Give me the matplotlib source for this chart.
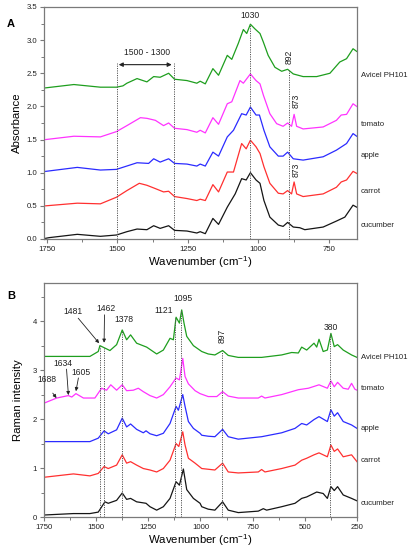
import matplotlib
matplotlib.use('Agg')
import matplotlib.pyplot as plt
import matplotlib.transforms as mtransforms
from matplotlib.ticker import MultipleLocator, FormatStrFormatter

plt.rcParams['font.family'] = ['Liberation Sans', 'DejaVu Sans']
plt.rcParams['mathtext.default'] = 'regular'

names = ['Avicel PH101', 'tomato', 'apple', 'carrot', 'cucumber']
colors = ['#1e9e1e', '#ff33ff', '#2b2bff', '#ff3030', '#151515']

# ---- A: FTIR absorbance ----
ftir_avicel_wn = [1754, 1654, 1560, 1503, 1480, 1466, 1430, 1395, 1371, 1348, 1318, 1297, 1253, 1218,
                  1206, 1188, 1161, 1141, 1110, 1094, 1071, 1053, 1041, 1028, 1012, 994, 982, 965,
                  941, 917, 896, 876, 841, 793, 746, 711, 687, 664, 651]
ftir_avicel = [2.28, 2.33, 2.29, 2.29, 2.31, 2.35, 2.42, 2.37, 2.45, 2.44, 2.50, 2.41, 2.39, 2.35,
               2.38, 2.34, 2.57, 2.47, 2.77, 2.71, 2.95, 3.16, 3.10, 3.24, 3.17, 3.10, 2.97, 2.77,
               2.59, 2.53, 2.56, 2.49, 2.45, 2.45, 2.50, 2.67, 2.72, 2.87, 2.83]

ftir_tomato_wn = [1754, 1654, 1560, 1503, 1466, 1418, 1395, 1365, 1336, 1318, 1297, 1253, 1218,
                  1206, 1188, 1161, 1141, 1110, 1094, 1065, 1053, 1028, 1008, 994, 982, 959, 935,
                  912, 896, 882, 873, 864, 841, 770, 723, 706, 687, 664, 651]
ftir_tomato = [1.50, 1.55, 1.54, 1.62, 1.71, 1.83, 1.82, 1.79, 1.71, 1.75, 1.67, 1.65, 1.61,
               1.64, 1.60, 1.83, 1.73, 2.04, 2.07, 2.39, 2.35, 2.49, 2.39, 2.34, 2.17, 1.89, 1.74,
               1.70, 1.75, 1.70, 1.88, 1.70, 1.66, 1.69, 1.79, 1.87, 1.88, 2.04, 2.00]

ftir_apple_wn = [1754, 1642, 1560, 1503, 1430, 1389, 1371, 1348, 1318, 1297, 1253, 1218, 1206,
                 1188, 1161, 1141, 1110, 1088, 1059, 1043, 1028, 1008, 996, 980, 959, 929, 912,
                 896, 876, 841, 770, 723, 687, 664, 651]
ftir_apple = [1.02, 1.08, 1.04, 1.05, 1.15, 1.14, 1.21, 1.16, 1.21, 1.14, 1.13, 1.10, 1.13,
              1.10, 1.31, 1.25, 1.54, 1.64, 1.89, 1.87, 1.99, 1.87, 1.87, 1.64, 1.39, 1.25, 1.25,
              1.31, 1.21, 1.19, 1.24, 1.34, 1.44, 1.59, 1.55]

ftir_carrot_wn = [1754, 1642, 1560, 1503, 1466, 1422, 1395, 1365, 1336, 1318, 1297, 1253, 1218,
                  1206, 1188, 1161, 1141, 1110, 1088, 1059, 1043, 1028, 1008, 994, 980, 959, 929,
                  912, 896, 882, 873, 864, 841, 770, 723, 706, 687, 664, 651]
ftir_carrot = [0.50, 0.54, 0.53, 0.63, 0.73, 0.84, 0.81, 0.76, 0.71, 0.72, 0.64, 0.61, 0.58,
               0.60, 0.58, 0.82, 0.71, 1.01, 1.01, 1.44, 1.36, 1.49, 1.39, 1.29, 1.09, 0.84, 0.69,
               0.68, 0.73, 0.68, 0.86, 0.68, 0.64, 0.68, 0.78, 0.86, 0.89, 1.02, 0.99]

ftir_cucumber_wn = [1754, 1742, 1642, 1560, 1503, 1466, 1430, 1395, 1371, 1348, 1318, 1297, 1253,
                    1218, 1206, 1188, 1161, 1141, 1110, 1082, 1059, 1043, 1028, 1008, 994, 980,
                    959, 929, 912, 896, 876, 853, 835, 770, 723, 693, 664, 651]
ftir_cucumber = [0.01, 0.02, 0.07, 0.04, 0.06, 0.11, 0.15, 0.14, 0.20, 0.16, 0.20, 0.13, 0.12,
                 0.09, 0.11, 0.08, 0.31, 0.22, 0.48, 0.68, 0.91, 0.89, 1.00, 0.89, 0.84, 0.58,
                 0.33, 0.21, 0.19, 0.25, 0.18, 0.17, 0.14, 0.18, 0.27, 0.33, 0.51, 0.48]

ftir_label_y = [2.47, 1.73, 1.26, 0.71, 0.20]

# ---- B: Raman intensity ----
raman_avicel_wn = [1753, 1530, 1490, 1482, 1458, 1434, 1402, 1375, 1354, 1335, 1306, 1258, 1210,
                   1178, 1146, 1130, 1117, 1101, 1090, 1079, 1066, 1034, 994, 963, 931, 894, 867,
                   819, 707, 611, 563, 531, 515, 491, 456, 443, 432, 412, 392, 375, 359, 343,
                   316, 276, 250]
raman_avicel = [3.28, 3.28, 3.38, 3.50, 3.45, 3.40, 3.52, 3.82, 3.62, 3.72, 3.55, 3.47, 3.33,
                3.41, 3.65, 3.62, 4.08, 3.96, 4.23, 3.96, 3.69, 3.50, 3.38, 3.33, 3.31, 3.40, 3.30,
                3.26, 3.26, 3.31, 3.36, 3.35, 3.47, 3.41, 3.55, 3.47, 3.63, 3.38, 3.41, 3.75, 3.48,
                3.52, 3.41, 3.31, 3.26]

raman_tomato_wn = [1753, 1689, 1633, 1617, 1597, 1561, 1506, 1474, 1450, 1430, 1402, 1375, 1354,
                   1322, 1298, 1274, 1242, 1210, 1178, 1146, 1117, 1101, 1085, 1074, 1058, 1026,
                   1002, 963, 922, 894, 867, 819, 723, 707, 691, 611, 531, 483, 432, 392, 375,
                   359, 343, 316, 292, 276, 260, 250]
raman_tomato = [2.32, 2.43, 2.48, 2.45, 2.52, 2.43, 2.43, 2.63, 2.59, 2.70, 2.59, 2.70, 2.58,
                2.59, 2.63, 2.56, 2.48, 2.43, 2.50, 2.66, 2.84, 2.80, 3.24, 2.87, 2.72, 2.58,
                2.52, 2.46, 2.46, 2.56, 2.47, 2.43, 2.43, 2.47, 2.43, 2.50, 2.60, 2.63, 2.70,
                2.63, 2.78, 2.66, 2.75, 2.63, 2.61, 2.73, 2.61, 2.59]

raman_apple_wn = [1753, 1530, 1490, 1462, 1442, 1402, 1375, 1354, 1335, 1306, 1274, 1261, 1242,
                  1210, 1178, 1146, 1117, 1106, 1085, 1074, 1058, 1034, 1002, 994, 963, 931, 894,
                  867, 819, 707, 611, 547, 515, 491, 456, 432, 392, 375, 359, 343, 316, 276, 250]
raman_apple = [1.54, 1.54, 1.61, 1.76, 1.70, 1.78, 2.02, 1.84, 1.90, 1.79, 1.72, 1.76, 1.70,
               1.66, 1.71, 1.91, 2.26, 2.18, 2.50, 2.26, 1.95, 1.81, 1.71, 1.67, 1.65, 1.64, 1.79,
               1.64, 1.59, 1.64, 1.72, 1.81, 1.91, 1.88, 1.99, 2.05, 1.95, 2.19, 2.06, 2.13, 1.95,
               1.88, 1.81]

raman_carrot_wn = [1753, 1609, 1530, 1490, 1462, 1442, 1402, 1375, 1354, 1335, 1306, 1274, 1242,
                   1210, 1178, 1146, 1117, 1104, 1085, 1074, 1058, 1026, 994, 931, 894, 867, 819,
                   723, 707, 691, 611, 547, 515, 491, 456, 432, 392, 375, 359, 343, 316, 276, 250]
raman_carrot = [0.81, 0.88, 0.84, 0.89, 1.03, 0.99, 1.06, 1.27, 1.10, 1.13, 1.06, 0.99, 0.96,
                0.92, 0.99, 1.16, 1.50, 1.44, 1.74, 1.47, 1.20, 1.10, 0.99, 0.96, 1.10, 0.92, 0.90,
                0.92, 0.97, 0.92, 0.99, 1.06, 1.16, 1.20, 1.27, 1.31, 1.23, 1.47, 1.34, 1.39, 1.23,
                1.27, 1.13]

raman_cucumber_wn = [1753, 1609, 1530, 1490, 1458, 1442, 1402, 1375, 1354, 1335, 1306, 1261, 1242,
                     1210, 1178, 1146, 1117, 1101, 1082, 1066, 1034, 1002, 994, 963, 931, 894, 867,
                     819, 723, 699, 683, 611, 547, 515, 491, 443, 412, 392, 375, 359, 343, 316,
                     276, 250]
raman_cucumber = [0.04, 0.07, 0.07, 0.10, 0.31, 0.28, 0.34, 0.49, 0.36, 0.38, 0.31, 0.28, 0.21,
                  0.14, 0.21, 0.38, 0.72, 0.65, 0.98, 0.56, 0.38, 0.28, 0.21, 0.16, 0.14, 0.31,
                  0.14, 0.09, 0.12, 0.17, 0.14, 0.21, 0.28, 0.38, 0.41, 0.51, 0.48, 0.38, 0.62,
                  0.54, 0.62, 0.45, 0.38, 0.33]

raman_label_y = [3.26, 2.62, 1.81, 1.15, 0.28]

# marker lines (position, top of dotted line)
ftir_lines = [(1500, 2.66), (1300, 2.66), (1030, 3.25), (892, 2.56)]
raman_lines = [(1481, 3.50), (1462, 3.46), (1378, 3.80), (1121, 4.06), (1095, 4.22),
               (897, 3.40), (380, 3.75)]

GRAY = '#7a7a7a'
FS_TICK = 5.6
FS_NOTE = 6.2


def style_axes(ax, xlim, ylim):
    ax.set_xlim(*xlim)
    ax.set_ylim(*ylim)
    for sp in ax.spines.values():
        sp.set_color(GRAY)
        sp.set_linewidth(0.9)
    ax.xaxis.set_major_locator(MultipleLocator(250))
    ax.xaxis.set_minor_locator(MultipleLocator(125))
    ax.tick_params(which='both', direction='out', color=GRAY, labelsize=FS_TICK,
                   labelcolor='#222222', top=False, right=False, pad=2)
    ax.tick_params(which='major', length=3, width=0.8)
    ax.tick_params(which='minor', length=2, width=0.7)
    ax.set_xlabel('Wavenumber (cm$^{-1}$)', fontsize=8.2, labelpad=1)


fig = plt.figure(figsize=(4.1, 5.5), dpi=100)
ax_a = fig.add_axes([0.1073, 0.5655, 0.7634, 0.4218])
ax_b = fig.add_axes([0.1073, 0.0600, 0.7634, 0.4255])

# ---- panel A ----
ftir = [(ftir_avicel_wn, ftir_avicel), (ftir_tomato_wn, ftir_tomato), (ftir_apple_wn, ftir_apple),
        (ftir_carrot_wn, ftir_carrot), (ftir_cucumber_wn, ftir_cucumber)]
for (wn, val), c in zip(ftir, colors):
    ax_a.plot(wn, val, color=c, lw=0.9)
for pos, top in ftir_lines:
    ax_a.plot([pos, pos], [0, top], color='#555555', lw=0.7, ls=(0, (1.2, 1.2)))
style_axes(ax_a, (1760, 650), (0, 3.5))
ax_a.yaxis.set_major_locator(MultipleLocator(0.5))
ax_a.yaxis.set_minor_locator(MultipleLocator(0.25))
ax_a.yaxis.set_major_formatter(FormatStrFormatter('%.1f'))
ax_a.set_ylabel('Absorbance', fontsize=8.2, labelpad=3)

trans_a = mtransforms.blended_transform_factory(ax_a.transAxes, ax_a.transData)
for name, y in zip(names, ftir_label_y):
    ax_a.text(1.012, y, name, transform=trans_a, fontsize=FS_TICK, va='center', ha='left',
              color='#222222', clip_on=False)

ax_a.annotate('', xy=(1307, 2.63), xytext=(1495, 2.63),
              arrowprops=dict(arrowstyle='<|-|>', color='#222222', lw=0.8,
                              mutation_scale=6, shrinkA=0, shrinkB=0))
ax_a.text(1395, 2.81, '1500 - 1300', fontsize=FS_NOTE, ha='center', va='center', color='#222222')
ax_a.text(1030, 3.37, '1030', fontsize=FS_NOTE, ha='center', va='center', color='#222222')
ax_a.text(890, 2.75, '892', fontsize=FS_NOTE, ha='center', va='center', rotation=90, color='#222222')
ax_a.text(866, 2.09, '873', fontsize=FS_NOTE, ha='center', va='center', rotation=90, color='#222222')
ax_a.text(866, 1.04, '873', fontsize=FS_NOTE, ha='center', va='center', rotation=90, color='#222222')
fig.text(7 / 410, 1 - 24 / 550, 'A', fontsize=8, fontweight='bold', ha='left', va='center')

# ---- panel B ----
raman = [(raman_avicel_wn, raman_avicel), (raman_tomato_wn, raman_tomato),
         (raman_apple_wn, raman_apple), (raman_carrot_wn, raman_carrot),
         (raman_cucumber_wn, raman_cucumber)]
for (wn, val), c in zip(raman, colors):
    ax_b.plot(wn, val, color=c, lw=0.9)
for pos, top in raman_lines:
    ax_b.plot([pos, pos], [0, top], color='#555555', lw=0.7, ls=(0, (1.2, 1.2)))
style_axes(ax_b, (1750, 250), (0, 4.78))
ax_b.yaxis.set_major_locator(MultipleLocator(1))
ax_b.yaxis.set_minor_locator(MultipleLocator(0.5))
ax_b.set_ylabel('Raman intensity', fontsize=8.2, labelpad=7)

trans_b = mtransforms.blended_transform_factory(ax_b.transAxes, ax_b.transData)
for name, y in zip(names, raman_label_y):
    ax_b.text(1.012, y, name, transform=trans_b, fontsize=FS_TICK, va='center', ha='left',
              color='#222222', clip_on=False)

arrow_kw = dict(arrowstyle='-|>', color='#222222', lw=0.6, mutation_scale=5, shrinkA=0, shrinkB=0)
notes_b = [('1481', (1609, 4.19), (1586, 4.06), (1486, 3.55)),
           ('1462', (1454, 4.25), (1460, 4.13), (1462, 3.56)),
           ('1688', (1734, 2.80), (1708, 2.53), (1690, 2.43)),
           ('1634', (1661, 3.14), (1642, 3.02), (1633, 2.49)),
           ('1605', (1574, 2.95), (1585, 2.84), (1597, 2.57))]
for txt, tpos, a0, a1 in notes_b:
    ax_b.text(tpos[0], tpos[1], txt, fontsize=FS_NOTE, ha='center', va='center', color='#222222')
    ax_b.annotate('', xy=a1, xytext=a0, arrowprops=arrow_kw)
ax_b.text(1365, 4.03, '1378', fontsize=FS_NOTE, ha='center', va='center', color='#222222')
ax_b.text(1178, 4.22, '1121', fontsize=FS_NOTE, ha='center', va='center', color='#222222')
ax_b.text(1085, 4.47, '1095', fontsize=FS_NOTE, ha='center', va='center', color='#222222')
ax_b.text(894, 3.69, '897', fontsize=FS_NOTE, ha='center', va='center', rotation=90, color='#222222')
ax_b.text(376, 3.88, '380', fontsize=FS_NOTE, ha='center', va='center', color='#222222')
fig.text(7 / 410, 1 - 296 / 550, 'B', fontsize=8, fontweight='bold', ha='left', va='center')

fig.savefig('out.png', dpi=100)
